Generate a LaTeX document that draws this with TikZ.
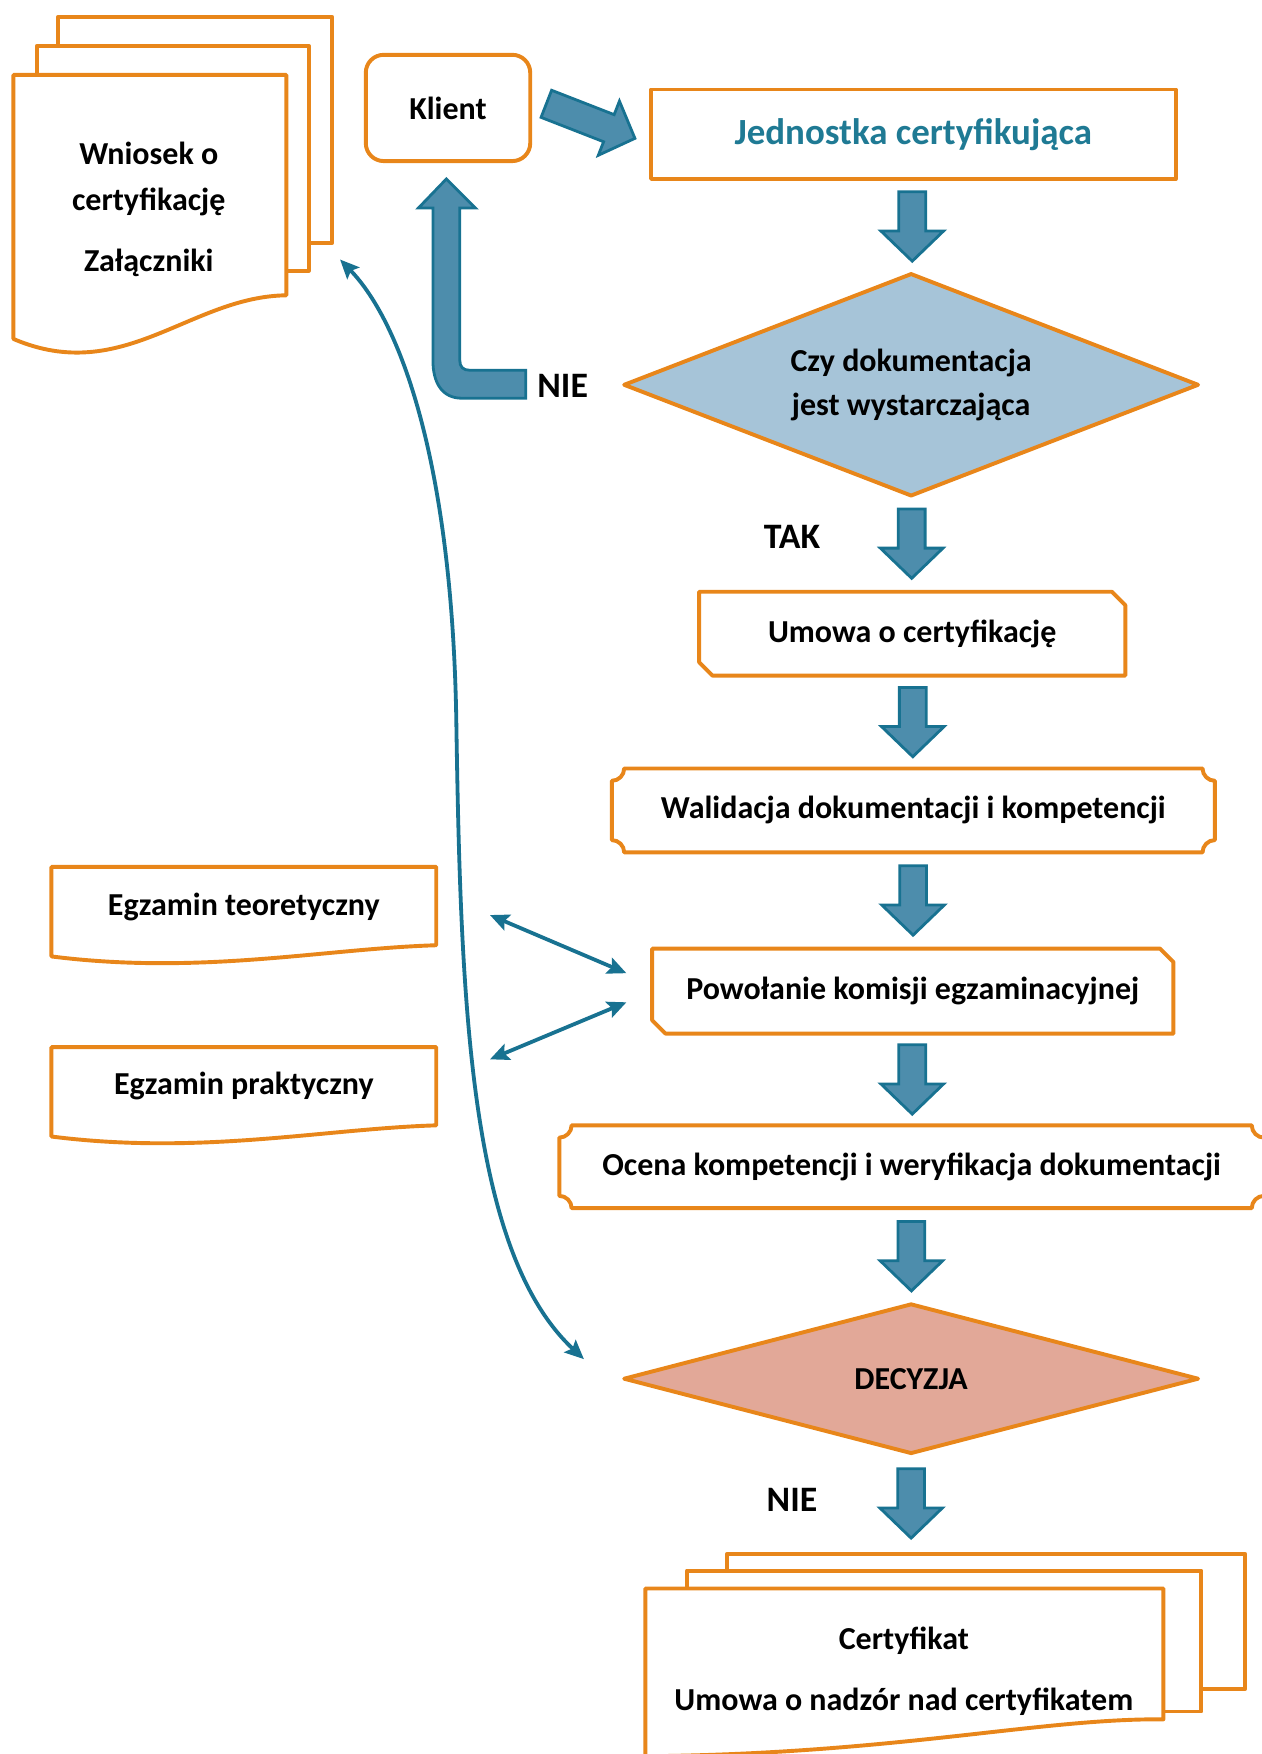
\documentclass[tikz,border=0pt]{standalone}
\usepackage{fontspec}
\setmainfont{Carlito}
\usetikzlibrary{calc,arrows.meta}
\pgfdeclarelayer{bg}
\pgfsetlayers{bg,main}
\definecolor{orng}{RGB}{232,134,26}
\definecolor{tealdk}{RGB}{24,114,145}
\definecolor{tealfill}{RGB}{77,141,172}
\definecolor{bluefill}{RGB}{166,196,216}
\definecolor{salmon}{RGB}{226,168,152}
\definecolor{tealtxt}{RGB}{31,122,148}
\newcommand\snipbox[1]{\draw[obox] (#1.north west) -- ($(#1.north east)+(-12,0)$) -- ($(#1.north east)+(0,12)$) -- (#1.south east) -- ($(#1.south west)+(12,0)$) -- ($(#1.south west)+(0,-12)$) -- cycle;}
\newcommand\plaquebox[1]{\draw[obox] ($(#1.north west)+(11,0)$) -- ($(#1.north east)+(-11,0)$) .. controls ($(#1.north east)+(-11,6)$) and ($(#1.north east)+(-6,11)$) .. ($(#1.north east)+(0,11)$) -- ($(#1.south east)+(0,-11)$) .. controls ($(#1.south east)+(-6,-11)$) and ($(#1.south east)+(-11,-6)$) .. ($(#1.south east)+(-11,0)$) -- ($(#1.south west)+(11,0)$) .. controls ($(#1.south west)+(11,-6)$) and ($(#1.south west)+(6,-11)$) .. ($(#1.south west)+(0,-11)$) -- ($(#1.north west)+(0,11)$) .. controls ($(#1.north west)+(6,11)$) and ($(#1.north west)+(11,6)$) .. ($(#1.north west)+(11,0)$) -- cycle;}
\tikzset{
 obox/.style={draw=orng, line width=3.5pt, fill=white, line join=round},
 boxarea/.style={inner sep=0pt, outer sep=0pt, font=\bfseries\fontsize{28.6}{39}\selectfont, align=center},
 lbl/.style={inner sep=0pt, font=\bfseries\fontsize{32}{36}\selectfont, anchor=base},
 txtline/.style={inner sep=0pt, font=\bfseries\fontsize{28.6}{32}\selectfont, anchor=base},
 blk/.style={draw=tealdk, fill=tealfill, line width=2.5pt, line join=miter},
 conn/.style={draw=tealdk, line width=3.4pt, {Stealth[length=17pt,width=15pt,inset=3pt]}-{Stealth[length=17pt,width=15pt,inset=3pt]}},
 dnarrow/.pic={\draw[blk] (-12,-31) -- (12,-31) -- (12,4) -- (28,4) -- (0,31) -- (-28,4) -- (-12,4) -- cycle;},
 diagarrow/.pic={\draw[blk] (-13,-42.5) -- (13,-42.5) -- (13,17.5) -- (26,17.5) -- (0,42.5) -- (-26,17.5) -- (-13,17.5) -- cycle;}
}
\begin{document}
\begin{tikzpicture}[x=1pt,y=-1pt]
\useasboundingbox (0,0) rectangle (1128,1568);
% box nodes
\node[boxarea, minimum width=244pt, minimum height=238pt] (wn) at (134,186) {};
\node[boxarea, minimum width=147pt, minimum height=95pt] (kl) at (400.5,96.5) {Klient};
\node[boxarea, minimum width=469pt, minimum height=80pt, text=tealtxt, font=\bfseries\fontsize{33}{36}\selectfont] (jed) at (816.5,120) {Jednostka certyfikująca};
\node[boxarea, minimum width=513pt, minimum height=198pt] (d1) at (814.5,344) {Czy dokumentacja\\jest wystarczająca};
\node[boxarea, minimum width=381pt, minimum height=75pt] (um) at (815.5,566.5) {Umowa o certyfikację};
\node[boxarea, minimum width=539pt, minimum height=75pt] (wal) at (816.5,724.5) {Walidacja dokumentacji i kompetencji};
\node[boxarea, minimum width=466pt, minimum height=76pt] (pow) at (816,886) {Powołanie komisji egzaminacyjnej};
\node[boxarea, minimum width=630pt, minimum height=74pt] (oc) at (815,1043) {Ocena kompetencji i weryfikacja dokumentacji};
\node[boxarea, minimum width=513pt, minimum height=133pt] (dec) at (814.5,1232.5) {DECYZJA};
\node[boxarea, minimum width=344pt, minimum height=82pt] (egt) at (218,816) {};
\node[boxarea, minimum width=344pt, minimum height=82pt] (egp) at (218,977) {};
\node[boxarea, minimum width=463pt, minimum height=121pt] (certb) at (881.5,1449.5) {};
\node[boxarea, minimum width=463pt, minimum height=148pt] (cert) at (808.5,1494) {};
% text lines
\node[txtline] (w1) at (133,147) {Wniosek o};
\node[txtline] (w2) at (133,188) {certyfikację};
\node[txtline] (w3) at (133,243) {Załączniki};
\node[txtline] (et) at (218,818) {Egzamin teoretyczny};
\node[txtline] (ep) at (218,978) {Egzamin praktyczny};
\node[txtline] (c1) at (808,1475) {Certyfikat};
\node[txtline] (c2) at (808,1529) {Umowa o nadzór nad certyfikatem};
\node[lbl] (nie1) at (503,355) {NIE};
\node[lbl] (tak) at (708,490) {TAK};
\node[lbl] (nie2) at (708,1351) {NIE};
% shapes
\begin{pgfonlayer}{bg}
\draw[obox] (52,15) rectangle (297,217);
\draw[obox] (33,41) rectangle (276,242);
\draw[obox] (wn.north west) -- (wn.north east) -- (256,264) .. controls (170,265) and (110,345) .. (12,303) -- cycle;
\draw[obox, rounded corners=16pt] (kl.north west) rectangle (kl.south east);
\draw[obox] (jed.north west) rectangle (jed.south east);
\draw[obox, fill=bluefill] (d1.north) -- (d1.east) -- (d1.south) -- (d1.west) -- cycle;
\snipbox{um}
\plaquebox{wal}
\snipbox{pow}
\plaquebox{oc}
\draw[obox, fill=salmon] (dec.north) -- (dec.east) -- (dec.south) -- (dec.west) -- cycle;
\draw[obox] (egt.north west) -- (egt.north east) -- (390,845) .. controls (290,848) and (180,872) .. (46,855) -- cycle;
\draw[obox] (egp.north west) -- (egp.north east) -- (390,1006) .. controls (290,1009) and (180,1033) .. (46,1016) -- cycle;
\draw[obox] (certb.north west) rectangle (certb.south east);
\draw[obox] (614,1404) rectangle (1074,1530);
\draw[obox] (cert.north west) -- (cert.north east) -- (1040,1537) .. controls (930,1536) and (800,1568) .. (577,1570) -- cycle;
\end{pgfonlayer}
% block arrows
\pic[rotate=68.7] at ($(kl.east)!0.5!(jed.west)$) {diagarrow};
\pic at ($(jed.south)!0.5!(d1.north)$) {dnarrow};
\pic at ($(d1.south)!0.5!(um.north)$) {dnarrow};
\pic at ($(um.south)!0.5!(wal.north)$) {dnarrow};
\pic at ($(wal.south)!0.5!(pow.north)$) {dnarrow};
\pic at ($(pow.south)!0.5!(oc.north)$) {dnarrow};
\pic at ($(oc.south)!0.5!(dec.north)$) {dnarrow};
\pic at ($(dec.south)!0.5!(dec.south |- certb.north)$) {dnarrow};
\draw[blk] (470,331) -- (420,331) .. controls (414,331) and (411,328) .. (411,322) -- (411,186) -- (425,186) -- (399,160) -- (374,186) -- (387,186) -- (387,322) .. controls (387,342) and (395,356) .. (413,356) -- (470,356) -- cycle;
% thin connectors
\coordinate (cA) at (304,232);
\coordinate (cB) at (522,1215);
\coordinate (tA) at (438,818);
\coordinate (tB) at (560,870);
\coordinate (pA) at (438,947);
\coordinate (pB) at (560,896);
\draw[conn] (cA) .. controls (360,290) and (405,420) .. (408,650) .. controls (412,900) and (420,1120) .. (cB);
\draw[conn] (tA) -- (tB);
\draw[conn] (pA) -- (pB);
\end{tikzpicture}
\end{document}
